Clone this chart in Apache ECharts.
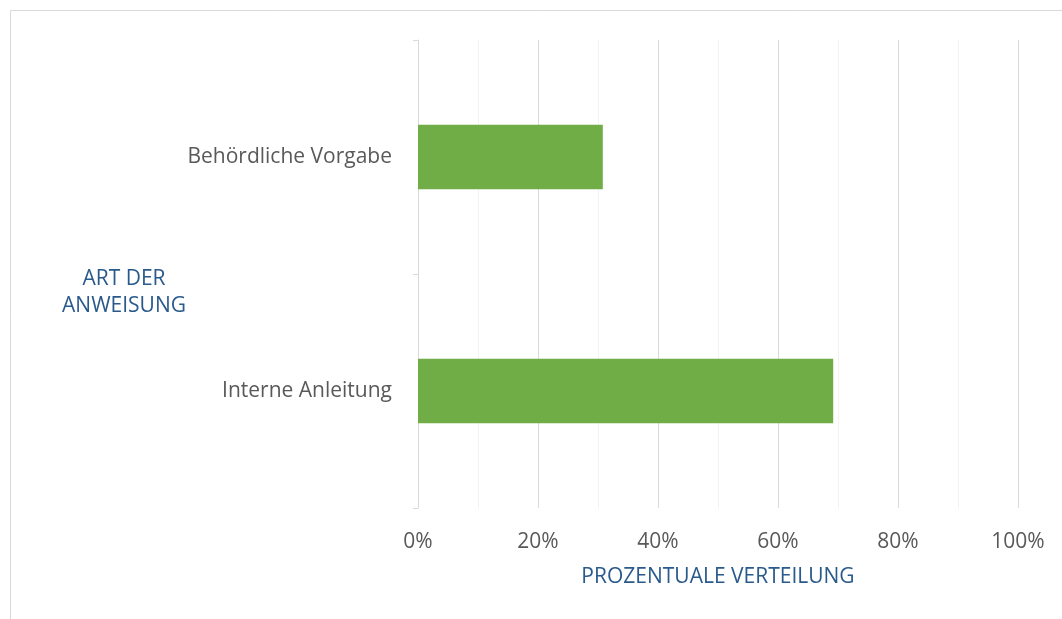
<!DOCTYPE html>
<html lang="de">
<head>
    <meta charset="UTF-8">
    <title>Art der Anweisung</title>
    <script src="https://cdn.jsdelivr.net/npm/echarts@6/dist/echarts.min.js"></script>
    <style>
        html, body { margin: 0; padding: 0; background: #fff; }
        #main { width: 1062px; height: 619px; }
    </style>
</head>
<body>
<div id="main"></div>
<script type="text/javascript">
    // Kategorien von unten nach oben (Kategorieachse auf y)
    var categories = ['Interne Anleitung', 'Behördliche Vorgabe'];
    var shares = [0.692, 0.308];
    var tickValues = [0, 0.2, 0.4, 0.6, 0.8, 1];

    var myChart = echarts.init(document.getElementById('main'));
    var font = '"Open Sans", "Liberation Sans", sans-serif';

    var option = {
        animation: false,
        backgroundColor: '#fff',
        textStyle: { fontFamily: font },
        graphic: [{
            type: 'rect',
            shape: { x: 10.5, y: 10.5, width: 1100, height: 700 },
            style: { fill: 'none', stroke: '#d9d9d9', lineWidth: 1 },
            silent: true
        }, {
            // Titel der Kategorieachse
            type: 'text',
            x: 124,
            y: 266,
            style: {
                text: 'ART DER\nANWEISUNG',
                fill: '#2a5a8c',
                font: '21px ' + font,
                align: 'center',
                lineHeight: 27
            },
            silent: true
        }],
        grid: { left: 418, right: 44, top: 40, bottom: 111, containLabel: false },
        xAxis: {
            type: 'value',
            min: 0,
            max: 1,
            interval: 0.2,
            axisLine: { show: false },
            axisTick: { show: false },
            axisLabel: {
                color: '#595959',
                fontSize: 21,
                margin: 24,
                formatter: function (v) {
                    return tickValues.indexOf(Math.round(v * 10) / 10) >= 0 ? Math.round(v * 100) + '%' : '';
                }
            },
            splitLine: { lineStyle: { color: '#d9d9d9', width: 1 } },
            minorTick: { show: false, splitNumber: 2 },
            minorSplitLine: { show: true, lineStyle: { color: '#f2f2f2', width: 1 } },
            name: 'PROZENTUALE VERTEILUNG',
            nameLocation: 'middle',
            nameGap: 59,
            nameTextStyle: { color: '#2a5a8c', fontSize: 21 }
        },
        yAxis: {
            type: 'category',
            data: categories,
            axisLine: { show: true, lineStyle: { color: '#d9d9d9', width: 1 } },
            axisTick: { show: true, length: 5, lineStyle: { color: '#d9d9d9' } },
            axisLabel: { color: '#595959', fontSize: 21, margin: 26, padding: [5, 0, 0, 0] },
            splitLine: { show: false }
        },
        series: [{
            type: 'bar',
            data: shares,
            barWidth: '27.5%',
            itemStyle: { color: '#70ad47' },
            silent: true
        }]
    };
    myChart.setOption(option);
</script>
</body>
</html>
